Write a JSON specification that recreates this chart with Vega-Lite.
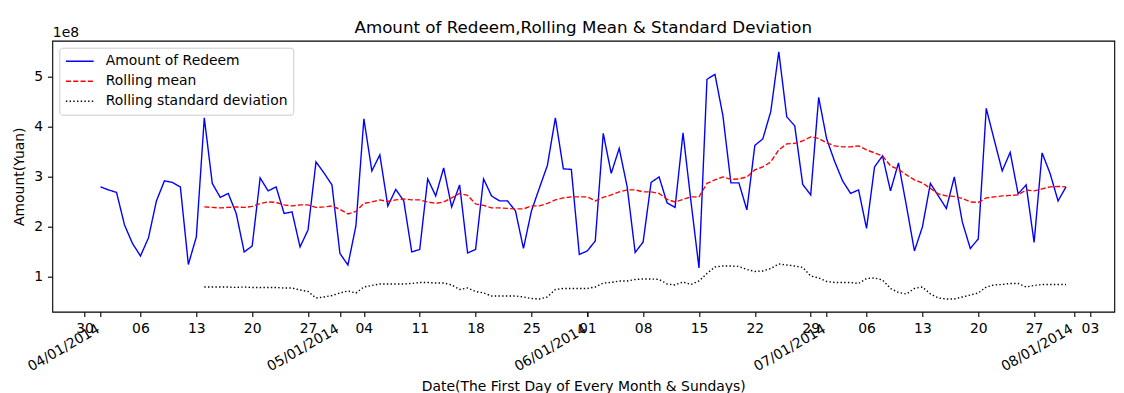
{
"$schema": "https://vega.github.io/schema/vega-lite/v6.json",
"width": 1062, "height": 271,
"autosize": {"type": "none"},
"padding": {"left": 52.3, "top": 40.7, "right": 9.7, "bottom": 81.3},
"background": "white",
"title": {"text": "Amount of Redeem,Rolling Mean & Standard Deviation", "fontSize": 16.7, "fontWeight": "normal", "font": "DejaVu Sans", "color": "black", "frame": "group", "anchor": "middle", "baseline": "alphabetic", "offset": 8.3, "dy": 32.5},
"data": {"values": [
{"date":"2014-04-01","redeem":279000000,"mean":null,"std":null},
{"date":"2014-04-02","redeem":273000000,"mean":null,"std":null},
{"date":"2014-04-03","redeem":268000000,"mean":null,"std":null},
{"date":"2014-04-04","redeem":203000000,"mean":null,"std":null},
{"date":"2014-04-05","redeem":166000000,"mean":null,"std":null},
{"date":"2014-04-06","redeem":141000000,"mean":null,"std":null},
{"date":"2014-04-07","redeem":177000000,"mean":null,"std":null},
{"date":"2014-04-08","redeem":251000000,"mean":null,"std":null},
{"date":"2014-04-09","redeem":291000000,"mean":null,"std":null},
{"date":"2014-04-10","redeem":288000000,"mean":null,"std":null},
{"date":"2014-04-11","redeem":279000000,"mean":null,"std":null},
{"date":"2014-04-12","redeem":124000000,"mean":null,"std":null},
{"date":"2014-04-13","redeem":179000000,"mean":null,"std":null},
{"date":"2014-04-14","redeem":417000000,"mean":239000000,"std":79000000},
{"date":"2014-04-15","redeem":286000000,"mean":238000000,"std":79000000},
{"date":"2014-04-16","redeem":258000000,"mean":237000000,"std":79000000},
{"date":"2014-04-17","redeem":266000000,"mean":238000000,"std":79000000},
{"date":"2014-04-18","redeem":226000000,"mean":239000000,"std":78000000},
{"date":"2014-04-19","redeem":149000000,"mean":238000000,"std":79000000},
{"date":"2014-04-20","redeem":161000000,"mean":240000000,"std":78000000},
{"date":"2014-04-21","redeem":297000000,"mean":246000000,"std":78000000},
{"date":"2014-04-22","redeem":271000000,"mean":249000000,"std":78000000},
{"date":"2014-04-23","redeem":279000000,"mean":248000000,"std":78000000},
{"date":"2014-04-24","redeem":226000000,"mean":243000000,"std":77000000},
{"date":"2014-04-25","redeem":229000000,"mean":241000000,"std":77000000},
{"date":"2014-04-26","redeem":159000000,"mean":243000000,"std":73000000},
{"date":"2014-04-27","redeem":193000000,"mean":243000000,"std":70000000},
{"date":"2014-04-28","redeem":329000000,"mean":238000000,"std":57000000},
{"date":"2014-04-29","redeem":307000000,"mean":239000000,"std":59000000},
{"date":"2014-04-30","redeem":283000000,"mean":241000000,"std":62000000},
{"date":"2014-05-01","redeem":146000000,"mean":234000000,"std":67000000},
{"date":"2014-05-02","redeem":123000000,"mean":225000000,"std":71000000},
{"date":"2014-05-03","redeem":201000000,"mean":230000000,"std":67000000},
{"date":"2014-05-04","redeem":415000000,"mean":246000000,"std":79000000},
{"date":"2014-05-05","redeem":311000000,"mean":249000000,"std":82000000},
{"date":"2014-05-06","redeem":343000000,"mean":253000000,"std":85000000},
{"date":"2014-05-07","redeem":241000000,"mean":250000000,"std":85000000},
{"date":"2014-05-08","redeem":274000000,"mean":253000000,"std":85000000},
{"date":"2014-05-09","redeem":251000000,"mean":255000000,"std":85000000},
{"date":"2014-05-10","redeem":149000000,"mean":253000000,"std":86000000},
{"date":"2014-05-11","redeem":154000000,"mean":253000000,"std":88000000},
{"date":"2014-05-12","redeem":295000000,"mean":249000000,"std":88000000},
{"date":"2014-05-13","redeem":261000000,"mean":246000000,"std":87000000},
{"date":"2014-05-14","redeem":317000000,"mean":249000000,"std":87000000},
{"date":"2014-05-15","redeem":239000000,"mean":257000000,"std":83000000},
{"date":"2014-05-16","redeem":283000000,"mean":266000000,"std":74000000},
{"date":"2014-05-17","redeem":147000000,"mean":262000000,"std":77000000},
{"date":"2014-05-18","redeem":154000000,"mean":245000000,"std":70000000},
{"date":"2014-05-19","redeem":295000000,"mean":242000000,"std":67000000},
{"date":"2014-05-20","redeem":261000000,"mean":237000000,"std":61000000},
{"date":"2014-05-21","redeem":251000000,"mean":237000000,"std":61000000},
{"date":"2014-05-22","redeem":251000000,"mean":236000000,"std":61000000},
{"date":"2014-05-23","redeem":231000000,"mean":235000000,"std":61000000},
{"date":"2014-05-24","redeem":156000000,"mean":235000000,"std":59000000},
{"date":"2014-05-25","redeem":231000000,"mean":241000000,"std":56000000},
{"date":"2014-05-26","redeem":277000000,"mean":241000000,"std":55000000},
{"date":"2014-05-27","redeem":322000000,"mean":246000000,"std":59000000},
{"date":"2014-05-28","redeem":417000000,"mean":253000000,"std":74000000},
{"date":"2014-05-29","redeem":315000000,"mean":257000000,"std":76000000},
{"date":"2014-05-30","redeem":314000000,"mean":259000000,"std":76000000},
{"date":"2014-05-31","redeem":144000000,"mean":259000000,"std":76000000},
{"date":"2014-06-01","redeem":151000000,"mean":259000000,"std":76000000},
{"date":"2014-06-02","redeem":171000000,"mean":251000000,"std":79000000},
{"date":"2014-06-03","redeem":386000000,"mean":258000000,"std":87000000},
{"date":"2014-06-04","redeem":306000000,"mean":263000000,"std":88000000},
{"date":"2014-06-05","redeem":356000000,"mean":269000000,"std":91000000},
{"date":"2014-06-06","redeem":279000000,"mean":273000000,"std":91000000},
{"date":"2014-06-07","redeem":148000000,"mean":273000000,"std":94000000},
{"date":"2014-06-08","redeem":169000000,"mean":269000000,"std":95000000},
{"date":"2014-06-09","redeem":288000000,"mean":269000000,"std":95000000},
{"date":"2014-06-10","redeem":299000000,"mean":266000000,"std":94000000},
{"date":"2014-06-11","redeem":247000000,"mean":254000000,"std":85000000},
{"date":"2014-06-12","redeem":238000000,"mean":249000000,"std":83000000},
{"date":"2014-06-13","redeem":387000000,"mean":254000000,"std":89000000},
{"date":"2014-06-14","redeem":249000000,"mean":259000000,"std":84000000},
{"date":"2014-06-15","redeem":117000000,"mean":259000000,"std":91000000},
{"date":"2014-06-16","redeem":494000000,"mean":286000000,"std":106000000},
{"date":"2014-06-17","redeem":504000000,"mean":293000000,"std":119000000},
{"date":"2014-06-18","redeem":421000000,"mean":299000000,"std":121000000},
{"date":"2014-06-19","redeem":287000000,"mean":294000000,"std":121000000},
{"date":"2014-06-20","redeem":287000000,"mean":295000000,"std":120000000},
{"date":"2014-06-21","redeem":233000000,"mean":299000000,"std":114000000},
{"date":"2014-06-22","redeem":362000000,"mean":313000000,"std":110000000},
{"date":"2014-06-23","redeem":375000000,"mean":319000000,"std":111000000},
{"date":"2014-06-24","redeem":430000000,"mean":329000000,"std":116000000},
{"date":"2014-06-25","redeem":549000000,"mean":353000000,"std":125000000},
{"date":"2014-06-26","redeem":419000000,"mean":365000000,"std":123000000},
{"date":"2014-06-27","redeem":401000000,"mean":366000000,"std":121000000},
{"date":"2014-06-28","redeem":284000000,"mean":371000000,"std":118000000},
{"date":"2014-06-29","redeem":263000000,"mean":379000000,"std":101000000},
{"date":"2014-06-30","redeem":458000000,"mean":376000000,"std":97000000},
{"date":"2014-07-01","redeem":375000000,"mean":367000000,"std":90000000},
{"date":"2014-07-02","redeem":330000000,"mean":361000000,"std":88000000},
{"date":"2014-07-03","redeem":291000000,"mean":359000000,"std":88000000},
{"date":"2014-07-04","redeem":266000000,"mean":359000000,"std":88000000},
{"date":"2014-07-05","redeem":273000000,"mean":361000000,"std":86000000},
{"date":"2014-07-06","redeem":196000000,"mean":353000000,"std":96000000},
{"date":"2014-07-07","redeem":319000000,"mean":347000000,"std":97000000},
{"date":"2014-07-08","redeem":341000000,"mean":341000000,"std":93000000},
{"date":"2014-07-09","redeem":271000000,"mean":321000000,"std":76000000},
{"date":"2014-07-10","redeem":327000000,"mean":314000000,"std":68000000},
{"date":"2014-07-11","redeem":241000000,"mean":303000000,"std":65000000},
{"date":"2014-07-12","redeem":151000000,"mean":293000000,"std":76000000},
{"date":"2014-07-13","redeem":199000000,"mean":287000000,"std":79000000},
{"date":"2014-07-14","redeem":286000000,"mean":276000000,"std":65000000},
{"date":"2014-07-15","redeem":261000000,"mean":265000000,"std":57000000},
{"date":"2014-07-16","redeem":236000000,"mean":261000000,"std":55000000},
{"date":"2014-07-17","redeem":299000000,"mean":260000000,"std":55000000},
{"date":"2014-07-18","redeem":209000000,"mean":256000000,"std":59000000},
{"date":"2014-07-19","redeem":156000000,"mean":249000000,"std":63000000},
{"date":"2014-07-20","redeem":175000000,"mean":248000000,"std":67000000},
{"date":"2014-07-21","redeem":436000000,"mean":257000000,"std":79000000},
{"date":"2014-07-22","redeem":373000000,"mean":259000000,"std":83000000},
{"date":"2014-07-23","redeem":311000000,"mean":261000000,"std":84000000},
{"date":"2014-07-24","redeem":348000000,"mean":262000000,"std":86000000},
{"date":"2014-07-25","redeem":265000000,"mean":263000000,"std":86000000},
{"date":"2014-07-26","redeem":283000000,"mean":273000000,"std":79000000},
{"date":"2014-07-27","redeem":168000000,"mean":271000000,"std":82000000},
{"date":"2014-07-28","redeem":347000000,"mean":275000000,"std":84000000},
{"date":"2014-07-29","redeem":306000000,"mean":279000000,"std":84000000},
{"date":"2014-07-30","redeem":251000000,"mean":280000000,"std":84000000},
{"date":"2014-07-31","redeem":279000000,"mean":279000000,"std":84000000}
]},
"layer": [
{
"mark": {"type": "line", "strokeWidth": 1.39},
"encoding": {
"x": {"field": "date", "type": "temporal",
"scale": {"type": "utc", "domain": [{"year":2014,"month":3,"date":25,"hours":22,"minutes":48,"utc":true},{"year":2014,"month":8,"date":6,"hours":1,"minutes":12,"utc":true}]},
"axis": {"orient": "bottom", "values": [
{"year":2014,"month":3,"date":30,"utc":true},{"year":2014,"month":4,"date":6,"utc":true},{"year":2014,"month":4,"date":13,"utc":true},{"year":2014,"month":4,"date":20,"utc":true},{"year":2014,"month":4,"date":27,"utc":true},
{"year":2014,"month":5,"date":4,"utc":true},{"year":2014,"month":5,"date":11,"utc":true},{"year":2014,"month":5,"date":18,"utc":true},{"year":2014,"month":5,"date":25,"utc":true},
{"year":2014,"month":6,"date":1,"utc":true},{"year":2014,"month":6,"date":8,"utc":true},{"year":2014,"month":6,"date":15,"utc":true},{"year":2014,"month":6,"date":22,"utc":true},{"year":2014,"month":6,"date":29,"utc":true},
{"year":2014,"month":7,"date":6,"utc":true},{"year":2014,"month":7,"date":13,"utc":true},{"year":2014,"month":7,"date":20,"utc":true},{"year":2014,"month":7,"date":27,"utc":true},{"year":2014,"month":8,"date":3,"utc":true}],
"labelExpr": "utcFormat(datum.value, '%d')", "labelAngle": 0, "labelAlign": "center", "labelBaseline": "top", "labelPadding": 4.5,
"labelOverlap": false, "labelFlush": false, "labelBound": false,
"title": "Date(The First Day of Every Month & Sundays)", "titleY": 67.5, "titleBaseline": "top"}},
"y": {"field": "redeem", "type": "quantitative",
"scale": {"domain": [29600000, 571200000], "nice": false, "zero": false},
"axis": {"orient": "left", "values": [100000000, 200000000, 300000000, 400000000, 500000000],
"labelExpr": "format(datum.value/100000000, 'd')", "title": "Amount(Yuan)", "titlePadding": 7}},
"color": {"datum": "Amount of Redeem", "scale": {"domain": ["Amount of Redeem", "Rolling mean", "Rolling standard deviation"], "range": ["#0000ff", "#ff0000", "#000000"]}, "legend": {"title": null}},
"strokeDash": {"datum": "Amount of Redeem", "scale": {"domain": ["Amount of Redeem", "Rolling mean", "Rolling standard deviation"], "range": [[1, 0], [5.1, 2.2], [1.4, 2.3]]}, "legend": {"title": null}}
}
},
{
"mark": {"type": "line", "strokeWidth": 1.39},
"encoding": {
"x": {"field": "date", "type": "temporal",
"scale": {"type": "utc", "domain": [{"year":2014,"month":3,"date":25,"hours":22,"minutes":48,"utc":true},{"year":2014,"month":8,"date":6,"hours":1,"minutes":12,"utc":true}]},
"axis": {"orient": "bottom", "values": [
{"year":2014,"month":4,"date":1,"utc":true},{"year":2014,"month":5,"date":1,"utc":true},{"year":2014,"month":6,"date":1,"utc":true},{"year":2014,"month":7,"date":1,"utc":true},{"year":2014,"month":8,"date":1,"utc":true}],
"labelExpr": "utcFormat(datum.value, '%m/%d/%Y')", "labelAngle": -30, "labelAlign": "right", "labelBaseline": "top", "labelPadding": 5, "labelOffset": -6,
"labelOverlap": false, "labelFlush": false, "labelBound": false, "title": null}},
"y": {"field": "mean", "type": "quantitative",
"scale": {"domain": [29600000, 571200000], "nice": false, "zero": false},
"axis": {"orient": "left", "title": "1e8", "titleAngle": 0, "titleX": 0, "titleY": -4.2, "titleAlign": "left", "titleBaseline": "alphabetic", "labels": false, "ticks": false, "domain": false}},
"color": {"datum": "Rolling mean", "legend": {"title": null}},
"strokeDash": {"datum": "Rolling mean", "legend": {"title": null}}
}
},
{
"mark": {"type": "line", "strokeWidth": 1.39},
"encoding": {
"x": {"field": "date", "type": "temporal",
"scale": {"type": "utc", "domain": [{"year":2014,"month":3,"date":25,"hours":22,"minutes":48,"utc":true},{"year":2014,"month":8,"date":6,"hours":1,"minutes":12,"utc":true}]},
"axis": null},
"y": {"field": "std", "type": "quantitative",
"scale": {"domain": [29600000, 571200000], "nice": false, "zero": false},
"axis": null},
"color": {"datum": "Rolling standard deviation", "legend": {"title": null}},
"strokeDash": {"datum": "Rolling standard deviation", "legend": {"title": null}}
}
}
],
"resolve": {"axis": {"x": "independent", "y": "independent"}},
"config": {
"font": "DejaVu Sans",
"view": {"stroke": "#000000", "strokeWidth": 1.1},
"axis": {"grid": false, "domain": false, "tickColor": "#000000", "tickSize": 4.86, "tickWidth": 1.1, "labelColor": "#000000", "labelFontSize": 13.9, "labelFont": "DejaVu Sans", "titleColor": "#000000", "titleFontSize": 13.9, "titleFontWeight": "normal", "titleFont": "DejaVu Sans", "labelPadding": 4.86},
"legend": {"orient": "top-left", "offset": 7, "padding": 5.6, "strokeColor": "#cccccc", "fillColor": "rgba(255,255,255,0.8)", "cornerRadius": 3, "symbolType": "M-1,0H2.97", "symbolSize": 196, "symbolStrokeWidth": 1.39, "labelFontSize": 13.9, "labelFont": "DejaVu Sans", "labelColor": "#000000", "labelOffset": 24.9, "rowPadding": 5.0, "labelLimit": 400}
}
}
